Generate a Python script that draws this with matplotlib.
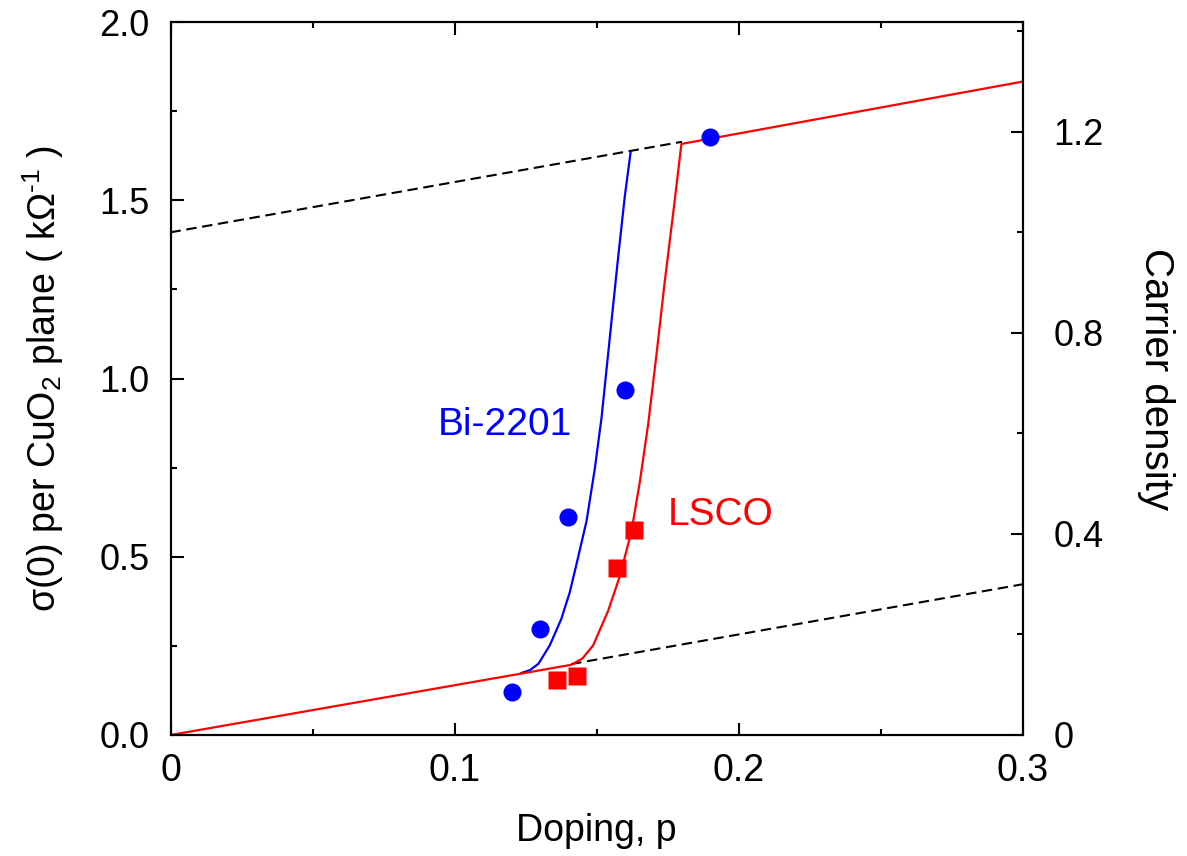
import matplotlib
matplotlib.use('Agg')
import matplotlib.pyplot as plt
from matplotlib.ticker import MultipleLocator

# doping p vs sigma(0) (kOhm^-1)
bi_p = [0.120, 0.130, 0.140, 0.160, 0.190]
bi_s = [0.120, 0.298, 0.612, 0.968, 1.677]
lsco_p = [0.136, 0.143, 0.157, 0.163]
lsco_s = [0.155, 0.166, 0.468, 0.574]

# model curves
bi_curve_p = [0.1235, 0.1265, 0.1295, 0.1335, 0.1375, 0.1405, 0.1429, 0.1464,
              0.1493, 0.1517, 0.1546, 0.1575, 0.1599, 0.1619]
bi_curve_s = [0.174, 0.182, 0.200, 0.252, 0.325, 0.400, 0.480, 0.600,
              0.746, 0.891, 1.115, 1.338, 1.513, 1.634]
lsco_curve_p = [0.0, 0.1411, 0.1450, 0.1487, 0.1540, 0.1581, 0.1622, 0.1651,
                0.1681, 0.1710, 0.1739, 0.1769, 0.1798, 0.30]
lsco_curve_s = [0.0, 0.197, 0.215, 0.251, 0.348, 0.445, 0.571, 0.707,
                0.872, 1.066, 1.270, 1.464, 1.658, 1.833]

# dashed reference lines n = 1 + p and n = p
upper_p = [0.0, 0.18]
upper_s = [1.41, 1.664]
lower_p = [0.141, 0.30]
lower_s = [0.199, 0.423]

scale = 1.41  # sigma per unit carrier density

plt.rcParams['font.family'] = ['Liberation Sans', 'DejaVu Sans']
plt.rcParams['mathtext.fontset'] = 'custom'
plt.rcParams['mathtext.rm'] = 'Liberation Sans'
plt.rcParams['mathtext.it'] = 'Liberation Sans'

fig = plt.figure(figsize=(11.87, 8.56), dpi=100)
ax = fig.add_axes([170.5 / 1187, 121 / 856, 852.5 / 1187, 713 / 856])

ax.plot(upper_p, upper_s, color='black', lw=1.5, dashes=(5, 2.7), zorder=1)
ax.plot(lower_p, lower_s, color='black', lw=1.5, dashes=(5, 2.7), zorder=1)
ax.plot(bi_curve_p, bi_curve_s, color='#0000ff', lw=1.6, zorder=2)
ax.plot(lsco_curve_p, lsco_curve_s, color='#ff0000', lw=1.6, zorder=3)
ax.plot(bi_p, bi_s, 'o', color='#0000ff', ms=13, mec='none', zorder=4)
ax.plot(lsco_p, lsco_s, 's', color='#ff0000', ms=13, mec='none', zorder=4)

ax.text(0.094, 0.87, 'Bi-2201', color='#0000ff', fontsize=28, va='center')
ax.text(0.175, 0.617, 'LSCO', color='#ff0000', fontsize=28, va='center')

ax.set_xlim(0, 0.3)
ax.set_ylim(0, 2.0)
ax.xaxis.set_minor_locator(MultipleLocator(0.05))
ax.yaxis.set_minor_locator(MultipleLocator(0.25))
ax.set_xticks([0, 0.1, 0.2, 0.3], ['0', '0.1', '0.2', '0.3'])
ax.set_yticks([0, 0.5, 1.0, 1.5, 2.0], ['0.0', '0.5', '1.0', '1.5', '2.0'])
ax.tick_params(which='both', direction='in', top=True, right=False, width=1.5)
ax.tick_params(which='major', length=9)
ax.tick_params(which='minor', length=4.5)
ax.tick_params(axis='y', labelsize=26, pad=15)
ax.tick_params(axis='x', labelsize=27, pad=13)
for sp in ax.spines.values():
    sp.set_linewidth(1.5)

ax2 = ax.twinx()
ax2.set_ylim(0, 2.0 / scale)
ax2.yaxis.set_minor_locator(MultipleLocator(0.2))
ax2.set_yticks([0, 0.4, 0.8, 1.2], ['0', '0.4', '0.8', '1.2'])
ax2.tick_params(which='both', direction='in', width=1.5, labelsize=26, pad=22)
ax2.tick_params(which='major', length=9)
ax2.tick_params(which='minor', length=4.5)
for sp in ax2.spines.values():
    sp.set_linewidth(1.5)

ax.set_xlabel('Doping, p', fontsize=27)
ax.xaxis.set_label_coords(0.5, -0.11)
ax.set_ylabel('σ(0) per CuO$_2$ plane ( kΩ$^{\u20101}$ )', fontsize=27)
ax.yaxis.set_label_coords(-0.122, 0.5)
ax2.set_ylabel('Carrier density', fontsize=29, rotation=-90)
ax2.yaxis.set_label_coords(1.178, 0.5)

fig.savefig('out.png', dpi=100)
